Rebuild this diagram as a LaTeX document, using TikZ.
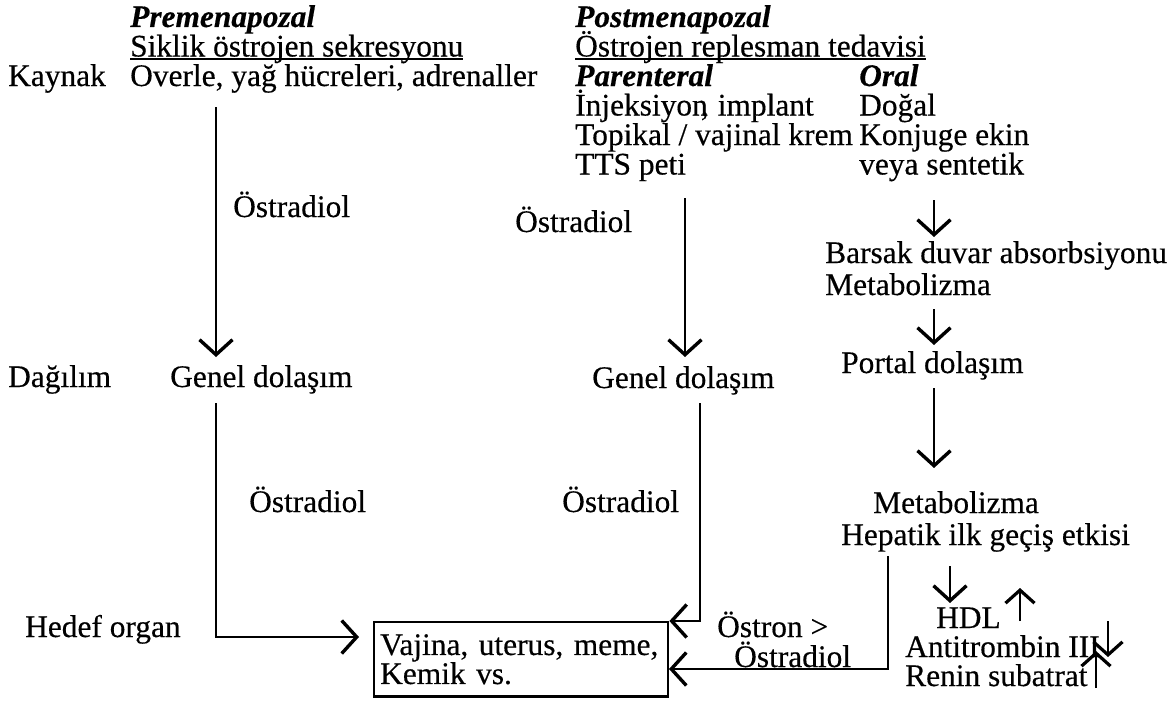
\documentclass[tikz,border=0pt]{standalone}
\usepackage{fontspec}
\setmainfont{Liberation Serif}[FakeBold=0.4]
\usetikzlibrary{arrows.meta}
\newcommand\ulx[1]{\setbox0\hbox{#1}\rlap{\rule[-3.5pt]{\wd0}{1.7pt}}\box0}
\tikzset{
  txt/.style={anchor=base west, inner sep=0pt, font=\fontsize{31.4}{29.5}\selectfont},
  hd/.style={txt, font=\fontsize{31.4}{29.5}\selectfont\bfseries\itshape},
  arr/.style={line width=2.3pt, -{Straight Barb[length=15pt,width=33pt,line width=3.4pt]}},
  sarr/.style={line width=2.3pt, -{Straight Barb[length=13pt,width=29pt,line width=3.2pt]}},
}
\begin{document}
\begin{tikzpicture}[x=1pt,y=-1pt]
\useasboundingbox (0,0) rectangle (1175,701);
% headers
\node[hd] (pre) at (130,27) {Premenapozal};
\node[txt] (pres) at (130,56.5) {\ulx{Siklik östrojen sekresyonu}};
\node[txt] (kay) at (8,86) {Kaynak};
\node[txt] (ovr) at (130,86) {Overle, yağ hücreleri, adrenaller};
\node[hd] (post) at (575,27) {Postmenapozal};
\node[txt] (posts) at (575,56.5) {\ulx{Östrojen replesman tedavisi}};
\node[hd] (par) at (575,86) {Parenteral};
\node[hd] (oral) at (859,86) {Oral};
\node[txt] (inj) at (575,115.5) {İnjeksiyon\kern-.22em,\kern.04em{} implant};
\node[txt] (dog) at (859,115.5) {Doğal};
\node[txt] (top) at (575,145) {Topikal / vajinal krem};
\node[txt] (konj) at (859,145) {Konjuge ekin};
\node[txt] (tts) at (575,174.5) {TTS peti};
\node[txt] (veya) at (859,174.5) {veya sentetik};
% labels
\node[txt] (est1) at (233,217) {Östradiol};
\node[txt] (est2) at (515,232) {Östradiol};
\node[txt] (bars) at (825,263) {Barsak duvar absorbsiyonu};
\node[txt] (met1) at (825,295) {Metabolizma};
\node[txt] (dag) at (8,387) {Dağılım};
\node[txt] (gen1) at (170,387) {Genel dolaşım};
\node[txt] (gen2) at (592,388) {Genel dolaşım};
\node[txt] (port) at (841,373) {Portal dolaşım};
\node[txt] (est3) at (249,512) {Östradiol};
\node[txt] (est4) at (562,512) {Östradiol};
\node[txt] (met2) at (873,513) {Metabolizma};
\node[txt] (hep) at (841,545) {Hepatik ilk geçiş etkisi};
\node[txt] (hedef) at (25,637) {Hedef organ};
\node[draw, line width=2.4pt, anchor=north west, inner xsep=6pt, inner ysep=12pt,
      text width=282pt, align=left, font=\fontsize{31.4}{29}\selectfont] (box) at (373,621)
      {Vajina, uterus, meme,\\Kemik vs.};
\node[txt] (ostron) at (717,637) {Östron >};
\node[txt] (est5) at (734,667) {Östradiol};
\node[txt] (hdl) at (936,628) {HDL};
\node[txt] (anti) at (905,657) {Antitrombin III};
\node[txt] (renin) at (905,686) {Renin subatrat};
% connector end points
\coordinate (a1s) at (216,107);
\coordinate (a1e) at (216,357);
\coordinate (a2s) at (685,198);
\coordinate (a2e) at (685,357);
\coordinate (a3s) at (934,200);
\coordinate (a3e) at (934,237);
\coordinate (a4s) at (934,309);
\coordinate (a4e) at (934,345);
\coordinate (a5s) at (934,388);
\coordinate (a5e) at (934,468);
\coordinate (l1s) at (216,403);
\coordinate (l1e) at (359,637);
\coordinate (l2s) at (700,403);
\coordinate (l3s) at (888,556);
\coordinate (l3e) at (669,669);
\coordinate (h1s) at (950,566);
\coordinate (h1e) at (950,603);
\coordinate (u1s) at (1020,621);
\coordinate (u1e) at (1020,588);
\coordinate (d1s) at (1108,621);
\coordinate (d1e) at (1108,657);
\coordinate (u2s) at (1096,688);
\coordinate (u2e) at (1096,651);
% connectors
\draw[arr] (a1s) -- (a1e);
\draw[arr] (a2s) -- (a2e);
\draw[arr] (a3s) -- (a3e);
\draw[arr] (a4s) -- (a4e);
\draw[arr] (a5s) -- (a5e);
\draw[arr] (l1s) |- (l1e);
\draw[arr] (l2s) |- (box.north east);
\draw[arr] (l3s) |- (l3e);
\draw[arr] (h1s) -- (h1e);
\draw[sarr] (u1s) -- (u1e);
\draw[sarr] (d1s) -- (d1e);
\draw[sarr] (u2s) -- (u2e);
\end{tikzpicture}
\end{document}
